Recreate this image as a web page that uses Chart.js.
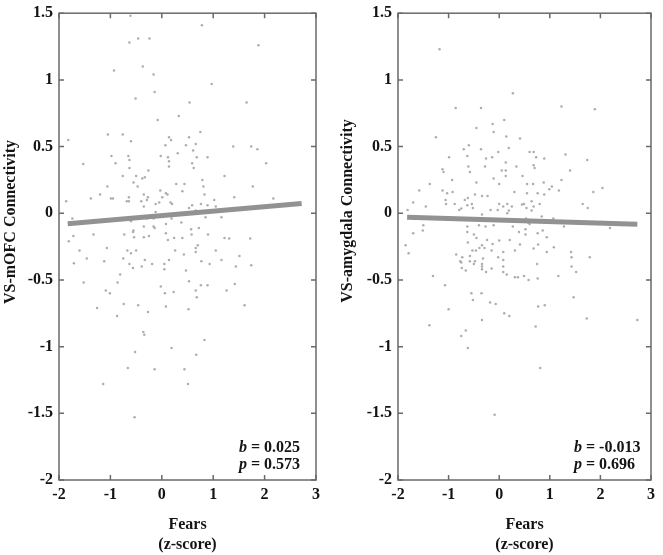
<!DOCTYPE html>
<html lang="en">
<head>
<meta charset="UTF-8">
<title>Fears vs VS connectivity</title>
<style>
    body {
        margin: 0;
        background: #fff;
    }
    #wrap {
        position: relative;
        width: 663px;
        height: 555px;
        overflow: hidden;
    }
    canvas {
        position: absolute;
        top: 0;
    }
    #left-chart { left: 0; }
    #right-chart { left: 331px; }
</style>
</head>
<body>
<div id="wrap">
    <canvas id="left-chart" width="331" height="555"></canvas>
    <canvas id="right-chart" width="332" height="555"></canvas>
</div>
<script src="https://cdn.jsdelivr.net/npm/chart.js"></script>
<script>
    // [fears z-score, connectivity]
    const mofcPoints = [
        [-0.61,1.48],[0.78,1.41],[-0.63,1.28],[-0.46,1.31],[-0.24,1.31],[1.88,1.26],[-0.93,1.07],[-0.37,1.10],
        [-0.16,1.04],[0.97,0.97],[-0.14,0.91],[-0.51,0.86],[0.54,0.83],[1.65,0.83],[-0.08,0.70],[0.33,0.73],
        [0.75,0.61],[-1.82,0.55],[-1.05,0.59],[-0.76,0.59],[-0.60,0.54],[0.14,0.57],[0.18,0.55],[0.53,0.57],
        [0.07,0.51],[0.47,0.51],[0.66,0.52],[0.61,0.47],[1.39,0.50],[1.74,0.50],[1.86,0.48],[0.31,0.45],
        [-0.98,0.43],[-0.65,0.43],[-0.02,0.43],[0.12,0.42],[0.68,0.42],[0.89,0.42],
        [-1.53,0.37],[-0.90,0.375],[-0.63,0.40],[-0.63,0.34],[0.14,0.39],[0.14,0.35],[0.59,0.375],[0.62,0.34],[2.03,0.375],
        [-0.76,0.28],[-0.50,0.28],[-0.38,0.26],[-0.33,0.27],[-0.26,0.32],[-0.55,0.23],[-0.47,0.20],[-1.06,0.20],
        [0.28,0.22],[0.44,0.22],[0.79,0.25],[0.81,0.20],[1.22,0.28],[1.77,0.20],
        [-0.03,0.17],[0.08,0.15],[0.01,0.12],[0.11,0.14],[0.40,0.165],[-1.20,0.14],[-1.38,0.11],[-0.99,0.11],
        [-0.95,0.11],[-0.64,0.12],[-0.35,0.14],[-0.27,0.12],[-0.29,0.10],[-0.68,0.09],[-0.64,0.09],[-0.40,0.09],
        [-0.35,0.05],[-0.12,0.07],[-0.05,0.08],[0.17,0.08],[0.20,0.07],[0.83,0.14],[1.02,0.10],[1.41,0.12],
        [2.17,0.11],[-1.86,0.09],
        [0.53,0.04],[0.59,0.06],[0.76,0.07],[0.89,0.06],[1.05,0.05],[-0.12,0.01],[0.66,0.02],[0.85,-0.03],
        [1.16,-0.03],[-1.74,-0.04],[-0.60,-0.06],[-0.49,-0.04],[-0.29,-0.04],[-0.16,-0.04],[0.19,-0.04],
        [0.38,-0.07],[0.08,-0.08],
        [-0.35,-0.10],[-0.16,-0.10],[-0.14,-0.11],[-0.55,-0.13],[-0.56,-0.14],[0.57,-0.12],[0.72,-0.11],
        [-1.33,-0.16],[-0.73,-0.16],[-0.54,-0.18],[-0.35,-0.18],[-0.25,-0.17],[0.08,-0.15],[0.24,-0.185],
        [0.40,-0.185],[0.58,-0.16],[0.90,-0.16],[1.22,-0.185],[1.31,-0.19],[1.72,-0.19],[-1.72,-0.17],
        [-1.81,-0.21],[0.12,-0.20],
        [-1.60,-0.28],[-1.07,-0.26],[-0.67,-0.28],[-0.50,-0.28],[-0.60,-0.30],[0.26,-0.28],[0.43,-0.31],
        [0.66,-0.26],[0.70,-0.24],[0.66,-0.29],[1.05,-0.28],[1.51,-0.32],
        [-1.46,-0.34],[-1.12,-0.36],[-0.75,-0.34],[-0.33,-0.35],[0.14,-0.35],[0.77,-0.36],[1.16,-0.35],
        [-1.71,-0.375],[-0.63,-0.38],[-0.56,-0.41],[-0.39,-0.40],[-0.19,-0.38],[0.05,-0.38],[0.05,-0.42],
        [0.93,-0.38],[1.44,-0.40],[1.74,-0.39],[0.47,-0.43],[-0.81,-0.46],
        [-1.52,-0.52],[-0.86,-0.52],[-0.02,-0.55],[0.53,-0.51],[0.76,-0.54],[0.89,-0.54],[1.42,-0.53],
        [-1.09,-0.58],[-1.01,-0.60],[0.06,-0.60],[0.23,-0.59],[0.66,-0.58],[1.26,-0.58],[0.68,-0.63],
        [-1.26,-0.71],[-0.74,-0.68],[-0.46,-0.69],[-0.27,-0.74],[0.08,-0.70],[0.52,-0.72],[1.61,-0.69],
        [-0.87,-0.77],[-0.36,-0.89],[-0.34,-0.91],[0.83,-0.95],[-0.52,-1.04],[0.19,-1.01],[0.67,-1.06],
        [-0.66,-1.16],[-0.14,-1.17],[0.44,-1.17],[-1.14,-1.28],[0.51,-1.28],[-0.53,-1.53]
    ];

    const amygPoints = [
        [-1.18,1.23],[0.27,0.90],[-0.86,0.79],[-0.36,0.79],[1.23,0.80],[1.89,0.78],[0.10,0.70],[-0.13,0.67],
        [-0.45,0.64],[-0.11,0.61],[-1.25,0.57],[0.14,0.575],[0.41,0.56],[-0.70,0.48],[-0.60,0.51],[-0.36,0.48],
        [0.19,0.49],[-0.02,0.46],[0.60,0.46],[0.68,0.46],[1.31,0.44],[-0.99,0.42],[-0.63,0.43],[-0.26,0.41],
        [-0.14,0.42],[0.73,0.42],[0.89,0.41],
        [1.74,0.40],[-0.61,0.35],[-1.12,0.33],[-1.10,0.31],[-0.58,0.31],[-0.28,0.35],[0.13,0.38],[0.05,0.32],
        [0.13,0.32],[0.13,0.28],[0.34,0.35],[0.68,0.36],[0.70,0.34],[1.40,0.32],
        [-1.37,0.22],[-0.93,0.25],[-0.45,0.23],[-0.11,0.26],[0.00,0.22],[0.46,0.28],[0.55,0.22],[0.67,0.22],
        [0.88,0.23],[1.23,0.25],
        [-1.58,0.17],[-1.12,0.17],[-1.03,0.15],[-0.92,0.16],[-0.48,0.14],[-0.34,0.13],[-0.23,0.13],[0.30,0.16],
        [0.55,0.15],[0.76,0.15],[0.89,0.14],[0.99,0.18],[1.04,0.20],[1.18,0.17],[1.86,0.16],[2.04,0.19],
        [-1.70,0.08],[-1.06,0.10],[-1.05,0.07],[-0.88,0.07],[-0.68,0.10],[-0.62,0.115],[-0.63,0.06],[-0.54,0.07],
        [-0.52,0.04],[-0.79,0.025],[-0.75,0.035],[-1.45,0.05],[-1.81,0.025],[-0.17,0.025],[-0.03,0.025],[0.00,0.07],
        [0.08,0.05],[0.16,0.07],[0.25,0.05],[0.19,0.02],[0.16,0.00],[0.45,0.065],[0.49,0.07],[0.54,0.04],
        [0.64,0.09],[0.68,0.05],[0.64,0.02],[0.80,0.07],[1.65,0.07],[1.75,0.04],
        [-0.34,-0.01],[0.53,-0.04],[0.84,-0.025],[1.07,-0.04],[0.57,-0.07],[0.60,-0.08],[1.28,-0.10],[2.19,-0.11],
        [-1.50,-0.09],[-1.51,-0.13],[-1.70,-0.15],[-0.63,-0.10],[-0.40,-0.09],[-0.27,-0.10],[-0.11,-0.09],
        [0.27,-0.10],[0.39,-0.14],[0.52,-0.12],[0.52,-0.16],[0.76,-0.15],[0.86,-0.13],
        [-0.63,-0.14],[-0.50,-0.16],[-0.45,-0.185],[-0.24,-0.20],[0.00,-0.205],[0.21,-0.20],[0.94,-0.18],
        [-0.62,-0.22],[-0.34,-0.24],[-0.13,-0.23],[0.41,-0.235],[0.77,-0.235],[1.08,-0.255],[-1.85,-0.24],
        [-0.53,-0.28],[-0.46,-0.28],[-0.39,-0.26],[-0.29,-0.26],[-0.15,-0.28],[0.08,-0.29],[0.31,-0.28],
        [0.68,-0.265],[1.42,-0.29],[-1.79,-0.30],[-0.85,-0.31],[-0.73,-0.33],[-0.58,-0.32],[-0.32,-0.34],
        [-0.02,-0.33],[0.08,-0.35],[0.94,-0.29],[1.43,-0.33],[1.79,-0.33],[-0.77,-0.36],[-0.48,-0.36],
        [-0.75,-0.37],[-0.58,-0.36],[-0.50,-0.38],[-0.34,-0.38],[-0.34,-0.40],[0.08,-0.40],[0.75,-0.38],
        [1.43,-0.40],[-0.74,-0.41],[-0.66,-0.43],[-0.34,-0.42],[-0.26,-0.44],[-0.15,-0.415],[0.08,-0.44],
        [0.15,-0.46],[1.52,-0.44],[-1.31,-0.47],[0.31,-0.48],[0.37,-0.48],[0.49,-0.47],[0.58,-0.50],
        [0.76,-0.49],[1.17,-0.47],
        [-1.07,-0.54],[-0.55,-0.60],[-0.35,-0.60],[-0.52,-0.65],[-0.18,-0.67],[-0.07,-0.68],[1.47,-0.63],
        [-1.00,-0.72],[0.77,-0.70],[0.90,-0.69],[0.10,-0.75],[0.20,-0.77],[-0.34,-0.80],[1.73,-0.79],
        [2.73,-0.80],[-1.38,-0.84],[0.72,-0.85],[-0.66,-0.88],[-0.75,-0.92],[-0.62,-1.01],
        [0.81,-1.16],[-0.09,-1.51]
    ];

    // fitted regression lines (end points as drawn)
    const mofcFitX = [-1.83, 2.72];
    const mofcFitY = [-0.078, 0.074];
    const amygFitX = [-1.82, 2.73];
    const amygFitY = [-0.030, -0.082];

    const xRange = { min: -2, max: 3, step: 1 };
    const yRange = { min: -2, max: 1.5, step: 0.5 };
    const xTitle = ['Fears', '(z-score)'];
    const mofcTitle = 'VS-mOFC Connectivity';
    const amygTitle = 'VS-amygdala Connectivity';
    const mofcStats = ['0.025', '0.573'];
    const amygStats = ['-0.013', '0.696'];

    const SERIF = '"Liberation Serif", "Times New Roman", serif';
    const INK = '#141414';

    // matlab-like box with inward ticks, rotated y label and b / p text
    const framePlugin = {
        id: 'frame',
        afterDatasetsDraw(chart, args, opts) {
            const { ctx, chartArea: a, scales: { x, y } } = chart;
            ctx.save();
            ctx.strokeStyle = '#6a6a6a';
            ctx.lineWidth = 1.5;
            ctx.strokeRect(a.left, a.top, a.right - a.left, a.bottom - a.top);
            ctx.beginPath();
            x.ticks.forEach(t => {
                const px = x.getPixelForValue(t.value);
                ctx.moveTo(px, a.bottom); ctx.lineTo(px, a.bottom - 5);
                ctx.moveTo(px, a.top); ctx.lineTo(px, a.top + 5);
            });
            y.ticks.forEach(t => {
                const py = y.getPixelForValue(t.value);
                ctx.moveTo(a.left, py); ctx.lineTo(a.left + 5, py);
                ctx.moveTo(a.right, py); ctx.lineTo(a.right - 5, py);
            });
            ctx.stroke();

            ctx.fillStyle = INK;
            ctx.font = 'bold 16px ' + SERIF;
            ctx.save();
            ctx.translate(opts.titleX, opts.titleY);
            ctx.rotate(-Math.PI / 2);
            ctx.textAlign = 'center';
            ctx.textBaseline = 'middle';
            ctx.fillText(opts.title, 0, 0);
            ctx.restore();

            ctx.textAlign = 'left';
            ctx.textBaseline = 'alphabetic';
            const sx = a.right - 77;
            [['b', opts.stats[0], 28], ['p', opts.stats[1], 11]].forEach(([sym, val, up]) => {
                ctx.font = 'italic bold 16px ' + SERIF;
                ctx.fillText(sym, sx, a.bottom - up);
                const w = ctx.measureText(sym).width;
                ctx.font = 'bold 16px ' + SERIF;
                ctx.fillText(' = ' + val, sx + w, a.bottom - up);
            });
            ctx.restore();
        }
    };

    // plain numbers, like matlab: 1 not 1.0
    const plainTick = v => String(Math.round(v * 10) / 10);

    function buildChart(id, points, fitX, fitY, title, stats, plotLeft, padRight, titleX, titleY) {
        const tickFont = { family: SERIF, size: 16, weight: 'bold', lineHeight: 0.9 };
        return new Chart(document.getElementById(id), {
            type: 'scatter',
            data: {
                datasets: [{
                    type: 'line',
                    data: fitX.map((v, i) => ({ x: v, y: fitY[i] })),
                    borderColor: '#929292',
                    borderWidth: 5,
                    pointRadius: 0,
                    fill: false
                }, {
                    data: points.map(p => ({ x: p[0], y: p[1] })),
                    backgroundColor: '#adadad',
                    pointRadius: 1.25,
                    pointBorderWidth: 0
                }]
            },
            options: {
                responsive: false,
                animation: false,
                events: [],
                devicePixelRatio: 1,
                layout: { padding: { left: 0, right: padRight, top: 8, bottom: 0 } },
                plugins: {
                    legend: { display: false },
                    tooltip: { enabled: false },
                    frame: { title: title, titleX: titleX, titleY: titleY, stats: stats }
                },
                scales: {
                    x: {
                        type: 'linear',
                        min: xRange.min,
                        max: xRange.max,
                        grid: { display: false, drawTicks: false },
                        border: { display: false },
                        ticks: { stepSize: xRange.step, padding: 8, color: INK, font: tickFont, callback: plainTick },
                        title: {
                            display: true,
                            text: xTitle,
                            color: INK,
                            font: { family: SERIF, size: 16, weight: 'bold', lineHeight: 1.25 },
                            padding: { top: 0, bottom: 0 }
                        },
                        afterFit: s => { s.height = 75; }
                    },
                    y: {
                        min: yRange.min,
                        max: yRange.max,
                        grid: { display: false, drawTicks: false },
                        border: { display: false },
                        ticks: { stepSize: yRange.step, padding: 6, color: INK, font: tickFont, callback: plainTick },
                        afterFit: s => { s.width = plotLeft; }
                    }
                }
            },
            plugins: [framePlugin]
        });
    }

    buildChart('left-chart', mofcPoints, mofcFitX, mofcFitY, mofcTitle, mofcStats, 59, 15, 11, 222);
    buildChart('right-chart', amygPoints, amygFitX, amygFitY, amygTitle, amygStats, 67, 7, 17, 211);
</script>
</body>
</html>
